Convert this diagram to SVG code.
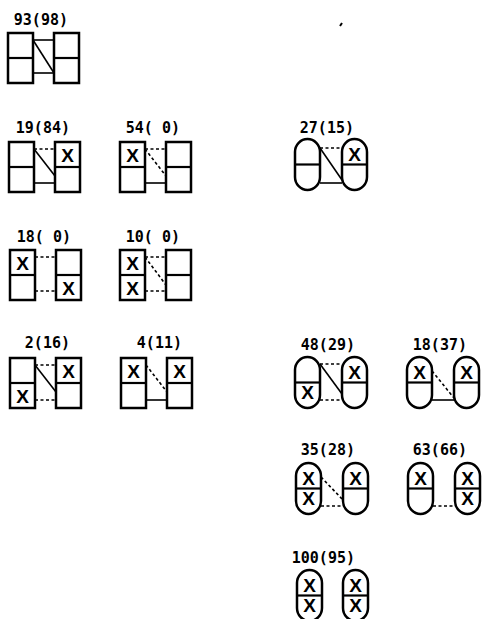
<svg xmlns="http://www.w3.org/2000/svg" width="482" height="619" viewBox="0 0 482 619">
<style>
.c{fill:none;stroke:#000;stroke-width:2.5}
.m{stroke:#000;stroke-width:2.2}
.s{stroke:#000;stroke-width:1.6;fill:none}
.d{stroke:#000;stroke-width:1.6;stroke-dasharray:3 2.5;fill:none}
.l{font-family:"DejaVu Sans Mono","Liberation Mono",monospace;font-weight:bold;font-size:15px;text-anchor:end;fill:#000;white-space:pre}
.x{font-family:"Liberation Sans",Arial,sans-serif;font-weight:bold;font-size:19px;text-anchor:middle;fill:#000}
</style>
<defs>
<g id="bx"><rect class="c" x="0" y="0" width="25" height="50"/><line class="m" x1="0" y1="25" x2="25" y2="25"/></g>
<g id="pl"><rect class="c" x="0" y="0" width="25" height="51" rx="12.5" ry="13"/><line class="m" x1="0" y1="25.5" x2="25" y2="25.5"/></g>
</defs>
<rect width="482" height="619" fill="#fff"/>
<line x1="340" y1="26" x2="342" y2="23" stroke="#000" stroke-width="2"/>

<g id="f1">
<text class="l" x="68" y="25">93(98)</text>
<use href="#bx" x="8" y="33"/><use href="#bx" x="54" y="33"/>
</g>
<g id="f2">
<text class="l" x="70" y="133">19(84)</text>
<use href="#bx" x="9" y="142"/><use href="#bx" x="55" y="142"/>
<text class="x" x="67.5" y="162">X</text>
</g>
<g id="f3">
<text class="l" x="180" y="133">54( 0)</text>
<use href="#bx" x="120" y="142"/><use href="#bx" x="166" y="142"/>
<text class="x" x="132.5" y="162">X</text>
</g>
<g id="f4">
<text class="l" x="71" y="242">18( 0)</text>
<use href="#bx" x="10" y="250"/><use href="#bx" x="56" y="250"/>
<text class="x" x="22.5" y="270">X</text>
<text class="x" x="68.5" y="295">X</text>
</g>
<g id="f5">
<text class="l" x="180" y="242">10( 0)</text>
<use href="#bx" x="120" y="250"/><use href="#bx" x="166" y="250"/>
<text class="x" x="132.5" y="270">X</text>
<text class="x" x="132.5" y="295">X</text>
</g>
<g id="f6">
<text class="l" x="70" y="348">2(16)</text>
<use href="#bx" x="10" y="358"/><use href="#bx" x="56" y="358"/>
<text class="x" x="22.5" y="403">X</text>
<text class="x" x="68.5" y="378">X</text>
</g>
<g id="f7">
<text class="l" x="182" y="348">4(11)</text>
<use href="#bx" x="121" y="358"/><use href="#bx" x="167" y="358"/>
<text class="x" x="133.5" y="378">X</text>
<text class="x" x="179.5" y="378">X</text>
</g>
<g id="f8">
<text class="l" x="354" y="133">27(15)</text>
<use href="#pl" x="295" y="139"/><use href="#pl" x="342" y="139"/>
<text class="x" x="354.5" y="161">X</text>
</g>
<g id="f9">
<text class="l" x="355" y="350">48(29)</text>
<use href="#pl" x="295" y="357"/><use href="#pl" x="342" y="357"/>
<text class="x" x="307.5" y="399">X</text>
<text class="x" x="354.5" y="379">X</text>
</g>
<g id="f10">
<text class="l" x="467" y="350">18(37)</text>
<use href="#pl" x="407" y="357"/><use href="#pl" x="454" y="357"/>
<text class="x" x="419.5" y="379">X</text>
<text class="x" x="466.5" y="379">X</text>
</g>
<g id="f11">
<text class="l" x="355" y="455">35(28)</text>
<use href="#pl" x="296" y="463"/><use href="#pl" x="343" y="463"/>
<text class="x" x="308.5" y="485">X</text>
<text class="x" x="308.5" y="505">X</text>
<text class="x" x="355.5" y="485">X</text>
</g>
<g id="f12">
<text class="l" x="467" y="455">63(66)</text>
<use href="#pl" x="408" y="463"/><use href="#pl" x="455" y="463"/>
<text class="x" x="420.5" y="485">X</text>
<text class="x" x="467.5" y="485">X</text>
<text class="x" x="467.5" y="505">X</text>
</g>
<g id="f13">
<text class="l" x="355" y="563">100(95)</text>
<use href="#pl" x="297" y="570"/><use href="#pl" x="343" y="570"/>
<text class="x" x="309.5" y="592">X</text>
<text class="x" x="309.5" y="612">X</text>
<text class="x" x="355.5" y="592">X</text>
<text class="x" x="355.5" y="612">X</text>
</g>

<g id="connectors">
<line class="s" x1="33" y1="40" x2="54" y2="40"/>
<line class="s" x1="33" y1="40" x2="54" y2="73"/>
<line class="s" x1="33" y1="73" x2="54" y2="73"/>

<line class="d" x1="34" y1="149" x2="55" y2="149"/>
<line class="s" x1="34" y1="149" x2="55" y2="176"/>
<line class="s" x1="34" y1="183" x2="55" y2="183"/>

<line class="d" x1="145" y1="149" x2="166" y2="149"/>
<line class="d" x1="145" y1="149" x2="166" y2="176"/>
<line class="s" x1="145" y1="183" x2="166" y2="183"/>

<line class="d" x1="35" y1="257" x2="56" y2="257"/>
<line class="d" x1="35" y1="291" x2="56" y2="291"/>

<line class="d" x1="145" y1="257" x2="166" y2="257"/>
<line class="d" x1="145" y1="257" x2="166" y2="285"/>
<line class="d" x1="145" y1="291" x2="166" y2="291"/>

<line class="d" x1="35" y1="365" x2="56" y2="365"/>
<line class="s" x1="35" y1="365" x2="56" y2="392"/>
<line class="d" x1="35" y1="400" x2="56" y2="400"/>

<line class="d" x1="146" y1="365" x2="167" y2="392"/>
<line class="s" x1="146" y1="400" x2="167" y2="400"/>

<line class="d" x1="320" y1="148" x2="342" y2="148"/>
<line class="s" x1="320" y1="148" x2="342" y2="180"/>
<line class="s" x1="320" y1="183" x2="342" y2="183"/>

<line class="d" x1="320" y1="364" x2="342" y2="364"/>
<line class="s" x1="320" y1="364" x2="342" y2="394"/>
<line class="d" x1="320" y1="400" x2="342" y2="400"/>

<line class="d" x1="432" y1="371" x2="454" y2="398"/>
<line class="s" x1="432" y1="400" x2="454" y2="400"/>

<line class="d" x1="321" y1="477" x2="343" y2="500"/>
<line class="d" x1="321" y1="506" x2="343" y2="506"/>

<line class="d" x1="433" y1="506" x2="455" y2="506"/>
</g>
</svg>
